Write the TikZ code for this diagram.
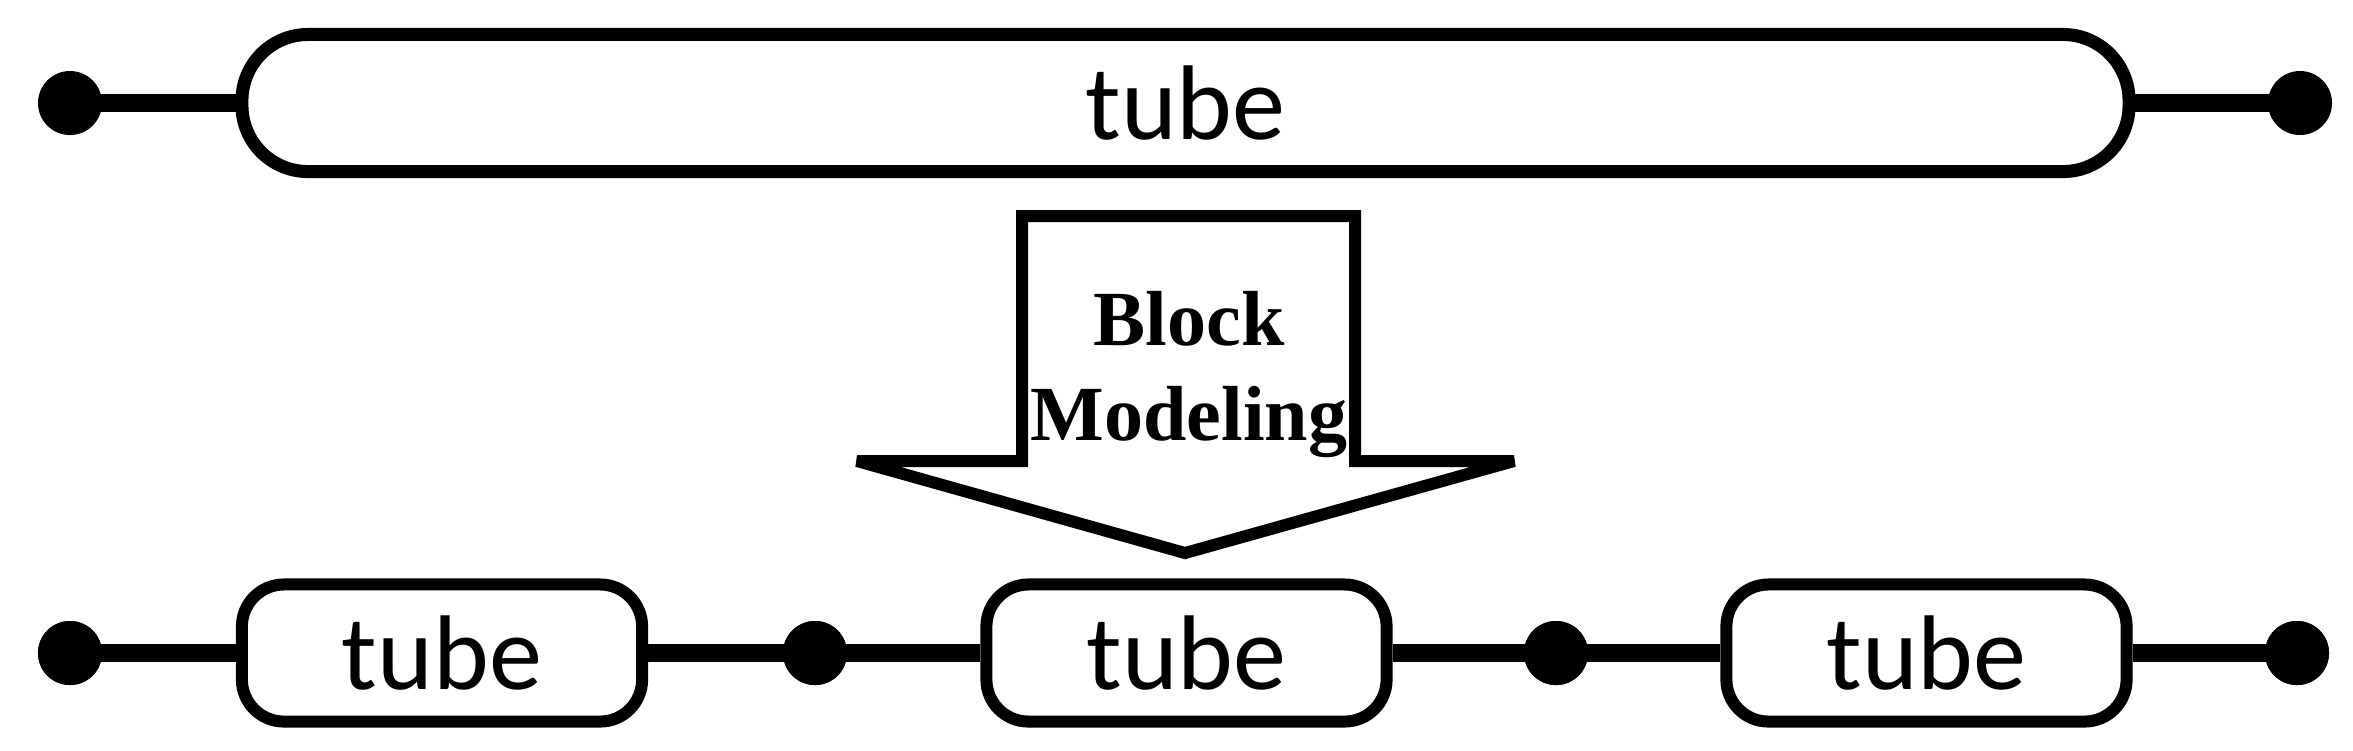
\documentclass[tikz,border=0pt]{standalone}
\usepackage{fontspec}
\setmainfont{Carlito}
\newfontfamily\serifbold{Liberation Serif}
\begin{document}
\begin{tikzpicture}[x=0.01cm,y=-0.01cm,
  tubebig/.style={draw,line width=0.13cm,rounded corners=0.66cm,minimum width=18.86cm,minimum height=1.37cm,inner sep=0pt,font=\fontsize{30.2}{30}\selectfont,fill=white},
  tubesmall/.style={draw,line width=0.12cm,rounded corners=0.42cm,minimum width=4.0cm,minimum height=1.37cm,inner sep=0pt,font=\fontsize{30.2}{30}\selectfont,fill=white},
  dotnode/.style={circle,fill=black,draw=none,minimum size=0.64cm,inner sep=0pt},
  wire/.style={line width=0.18cm},
  arrowshape/.style={draw,line width=0.12cm,line join=miter,miter limit=2,fill=white},
  armlabel/.style={font=\serifbold\bfseries\fontsize{22.2}{27}\selectfont,inner sep=0pt,anchor=base}
]
\useasboundingbox (0,0) rectangle (2353,750);
% top row
\node[dotnode] (a1) at (70,103) {};
\node[dotnode] (a2) at (2300,103) {};
\draw[wire] (a1.center) -- (236,103) coordinate (ca1);
\draw[wire] (2135,103) coordinate (ca2) -- (a2.center);
\node[tubebig] (t0) at (1185.5,103) {tube};
% arrow
\draw[arrowshape] (1022,216) coordinate (p1) -- (1355,216) coordinate (p2) -- (1355,461) coordinate (p3) -- (1514,461) coordinate (p4) -- (1185,553) coordinate (p5) -- (857,461) coordinate (p6) -- (1022,461) coordinate (p7) -- cycle;
\node[armlabel] (lb1) at (1189,345) {Block};
\node[armlabel] (lb2) at (1189,440) {Modeling};
% bottom row
\node[dotnode] (b1) at (70,653) {};
\node[dotnode] (b2) at (815,653) {};
\node[dotnode] (b3) at (1556,653) {};
\node[dotnode] (b4) at (2297,653) {};
\node[tubesmall] (s1) at (442,653) {tube};
\node[tubesmall] (s2) at (1186.5,653) {tube};
\node[tubesmall] (s3) at (1926.5,653) {tube};
\draw[wire] (b1.center) -- (s1.west);
\draw[wire] (s1.east) -- (b2.center);
\draw[wire] (b2.center) -- (s2.west);
\draw[wire] (s2.east) -- (b3.center);
\draw[wire] (b3.center) -- (s3.west);
\draw[wire] (s3.east) -- (b4.center);
\node[dotnode] (b1r) at (b1) {};
\node[dotnode] (b2r) at (b2) {};
\node[dotnode] (b3r) at (b3) {};
\node[dotnode] (b4r) at (b4) {};
\end{tikzpicture}
\end{document}
